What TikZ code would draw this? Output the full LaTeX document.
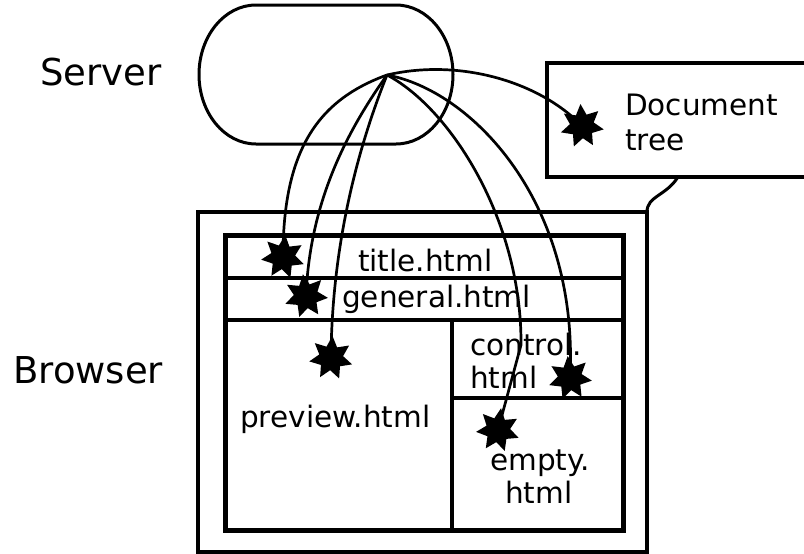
\documentclass[tikz,border=0pt]{standalone}
\usepackage{fontspec}
\setmainfont{DejaVu Sans}
\usetikzlibrary{shapes.geometric}
\begin{document}
\begin{tikzpicture}[x=1pt,y=-1pt,
  big/.style={anchor=base west,inner sep=0pt,font=\fontsize{37}{40}\selectfont},
  lbl/.style={anchor=base west,inner sep=0pt,font=\fontsize{29.5}{33}\selectfont},
  burst/.style={star,star points=7,star point ratio=1.8,fill=black,draw=none,minimum size=44pt,inner sep=0pt},
  link/.style={line width=2.7pt},
  frame/.style={line width=5pt},
  divider/.style={line width=3.2pt}]
\useasboundingbox (0,0) rectangle (804,554);
% Server
\draw[line width=3pt] (256,5) -- (396,5)
  .. controls (427.5,5) and (453,36.1) .. (453,74.5)
  .. controls (453,112.9) and (427.5,144) .. (396,144)
  -- (256,144)
  .. controls (224.5,144) and (199,112.9) .. (199,74.5)
  .. controls (199,36.1) and (224.5,5) .. (256,5) -- cycle;
\coordinate (src) at (387,75);
\node[big] (serverlabel) at (40,85) {Server};
\node[big] (browserlabel) at (13,383) {Browser};
% Document tree box
\draw[line width=3.2pt] (810,63) -- (547,63) -- (547,177) -- (810,177);
\coordinate (docbottom) at (678,177);
\node[lbl] (doclabel1) at (625,115) {Document};
\node[lbl] (doclabel2) at (625,150) {tree};
% Browser
\draw[line width=3.2pt] (198,212) rectangle (647,552);
\coordinate (browsercorner) at (647,212);
\draw[line width=3pt] (docbottom) .. controls (666,196) and (647,196) .. (browsercorner);
\draw[frame] (225,235) rectangle (623,530);
\draw[divider] (225,278) -- (623,278);
\draw[divider] (225,320) -- (623,320);
\draw[divider] (452,320) -- (452,530);
\draw[divider] (452,398) -- (623,398);
\node[lbl] (t1) at (358,271) {title.html};
\node[lbl] (t2) at (342,307) {general.html};
\node[lbl] (t3) at (240,427) {preview.html};
\node[lbl] (t4) at (470,355) {control.};
\node[lbl] (t5) at (470,388) {html};
\node[lbl] (t6) at (490,470) {empty.};
\node[lbl] (t7) at (505,503) {html};
% stars
\node[burst,rotate=4] (sdoc) at (582,126) {};
\node[burst,rotate=-6] (stitle) at (283,257) {};
\node[burst,rotate=8] (sgen) at (306,296) {};
\node[burst,rotate=-4] (sprev) at (331,358) {};
\node[burst,rotate=6] (sctrl) at (570,378) {};
\node[burst,rotate=-8] (sempty) at (498,430) {};
% connectors
\draw[link] (src) .. controls (460,58) and (540,82) .. (sdoc.center);
\draw[link] (src) .. controls (318,100) and (283,150) .. (stitle.center);
\draw[link] (src) .. controls (348,130) and (310,200) .. (sgen.center);
\draw[link] (src) .. controls (365,130) and (332,230) .. (sprev.center);
\draw[link] (src) .. controls (470,90) and (579,200) .. (sctrl.center);
\coordinate (bend) at (521,345);
\draw[link] (src) .. controls (450,108) and (522,220) .. (bend) -- (sempty.center);
\end{tikzpicture}
\end{document}
